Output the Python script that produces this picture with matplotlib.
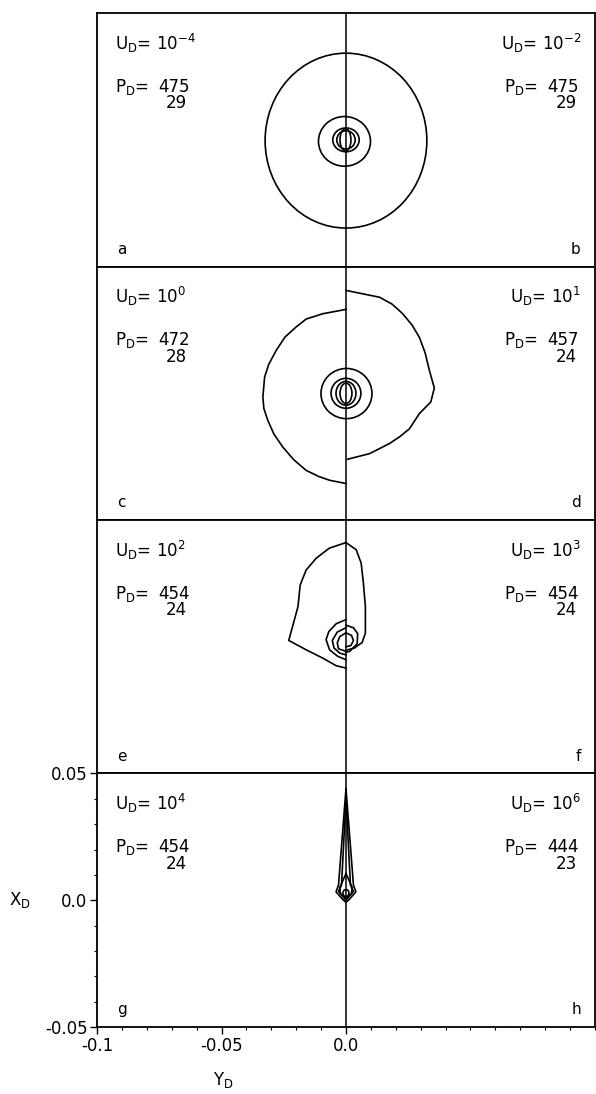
import matplotlib.pyplot as plt
from matplotlib.patches import Ellipse
from matplotlib.ticker import MultipleLocator

plt.rcParams['font.family'] = ['DejaVu Sans']
plt.rcParams['mathtext.default'] = 'regular'

# annotations for left / right half of each panel
u_exp_left = [-4, 0, 2, 4]
u_exp_right = [-2, 1, 3, 6]
p_left = [475, 472, 454, 454]
p_left2 = [29, 28, 24, 24]
p_right = [475, 457, 454, 444]
p_right2 = [29, 24, 24, 23]
letters_left = ['a', 'c', 'e', 'g']
letters_right = ['b', 'd', 'f', 'h']

# near circular contours: (x centre, y centre, width, height)
rings_ab = [
    (0.0, -0.0003, 0.065, 0.069),
    (-0.0006, -0.0006, 0.0209, 0.0196),
    (0.0, 0.0, 0.0106, 0.0094),
    (0.0, 0.0, 0.0074, 0.0072),
    (-0.0002, 0.0, 0.0044, 0.0088),
]
rings_cd = [
    (0.0002, -0.0001, 0.0205, 0.0198),
    (0.0, 0.0, 0.0120, 0.0118),
    (0.0, 0.0, 0.0080, 0.0094),
    (0.0, 0.0, 0.0048, 0.0080),
]

# panel c, left half, outer contour
c_out_x = [0.0, -0.0093, -0.0160, -0.0200, -0.0245, -0.0280, -0.0310, -0.0327, -0.0334,
           -0.0330, -0.0314, -0.0290, -0.0254, -0.0210, -0.0160, -0.0110, -0.0066, 0.0]
c_out_y = [0.0331, 0.0314, 0.0293, 0.0262, 0.0222, 0.0170, 0.0115, 0.0064, -0.0015,
           -0.0060, -0.0107, -0.0160, -0.0212, -0.0262, -0.0304, -0.0328, -0.0343, -0.0356]

# panel d, right half, outer contour
d_out_x = [0.0, 0.0135, 0.0185, 0.0227, 0.0265, 0.0295, 0.0318, 0.0335, 0.0355,
           0.0341, 0.0295, 0.0255, 0.0215, 0.0175, 0.0095, 0.0007]
d_out_y = [0.0406, 0.0379, 0.0352, 0.0315, 0.0270, 0.0221, 0.0160, 0.0091, 0.0021,
           -0.0034, -0.0080, -0.0140, -0.0172, -0.0198, -0.0238, -0.0260]

# panel e, left half contours
e1_x = [0.0, -0.0067, -0.0120, -0.0160, -0.0184, -0.0193, -0.0211, -0.0230,
        -0.0160, -0.0093, -0.0039, 0.0]
e1_y = [0.0411, 0.0389, 0.0349, 0.0303, 0.0244, 0.0158, 0.0093, 0.0025,
        -0.0012, -0.0045, -0.0075, -0.0084]
e2_x = [0.0, -0.0039, -0.0069, -0.0080, -0.0066, -0.0033, 0.0]
e2_y = [0.0107, 0.0091, 0.0060, 0.0028, -0.0012, -0.0038, -0.0051]
e3_x = [0.0, -0.0035, -0.0055, -0.0048, -0.0025, 0.0]
e3_y = [0.0075, 0.0058, 0.0025, -0.0005, -0.0025, -0.0032]
e4_x = [0.0, -0.0025, -0.0035, -0.0030, 0.0]
e4_y = [0.0055, 0.0040, 0.0015, -0.0008, -0.0018]

# panel f, right half contours
f1_x = [0.0, 0.0041, 0.0061, 0.0070, 0.0078, 0.0078, 0.0065, 0.0034, 0.0007]
f1_y = [0.0411, 0.0383, 0.0330, 0.0251, 0.0159, 0.0054, 0.0017, -0.0005, -0.0012]
f2_x = [0.0, 0.0030, 0.0047, 0.0045, 0.0015, 0.0]
f2_y = [0.0085, 0.0075, 0.0052, 0.0012, -0.0018, -0.0022]
f3_x = [0.0, 0.0022, 0.0030, 0.0020, 0.0]
f3_y = [0.0055, 0.0045, 0.0025, 0.0005, 0.0]

# panels g / h, spike contours
g1_x = [0.0, -0.0030, -0.0040, -0.0012, 0.0, 0.0012, 0.0040, 0.0030, 0.0]
g1_y = [0.044, 0.0060, 0.0033, 0.0002, -0.0008, 0.0002, 0.0033, 0.0060, 0.044]
g2_x = [0.0, -0.0018, -0.0030, 0.0, 0.0030, 0.0018, 0.0]
g2_y = [0.040, 0.0060, 0.0035, 0.0, 0.0035, 0.0060, 0.040]
g3_x = [0.0, -0.0025, -0.0022, 0.0, 0.0022, 0.0025, 0.0]
g3_y = [0.0105, 0.0050, 0.0025, 0.0008, 0.0025, 0.0050, 0.0105]
g_ring = (0.0, 0.0028, 0.0024, 0.0028)

fig, axes = plt.subplots(4, 1, figsize=(5.96, 10.94), dpi=100, sharex=True)
fig.subplots_adjust(left=0.163, right=0.998, top=0.988, bottom=0.0613, hspace=0)

lw = 1.2
fs = 12

def add_rings(ax, rings):
    for cx, cy, w, h in rings:
        ax.add_patch(Ellipse((cx, cy), w, h, fill=False, color='k', lw=lw))

for i, ax in enumerate(axes):
    ax.set_xlim(-0.1, 0.1)
    ax.set_ylim(-0.05, 0.05)
    ax.axvline(0, color='k', lw=1.1)
    for s in ax.spines.values():
        s.set_linewidth(1.3)

    # annotations
    ax.text(0.036, 0.855, "U$_D$= 10$^{%d}$" % u_exp_left[i], transform=ax.transAxes,
            fontsize=fs, ha='left', va='baseline')
    ax.text(0.036, 0.69, "P$_D$=", transform=ax.transAxes, fontsize=fs, ha='left', va='baseline')
    ax.text(0.122, 0.69, str(p_left[i]), transform=ax.transAxes, fontsize=fs, ha='left', va='baseline')
    ax.text(0.16, 0.625, str(p_left2[i]), transform=ax.transAxes, fontsize=fs, ha='center', va='baseline')
    ax.text(0.972, 0.855, "U$_D$= 10$^{%d}$" % u_exp_right[i], transform=ax.transAxes,
            fontsize=fs, ha='right', va='baseline')
    ax.text(0.818, 0.69, "P$_D$=", transform=ax.transAxes, fontsize=fs, ha='left', va='baseline')
    ax.text(0.904, 0.69, str(p_right[i]), transform=ax.transAxes, fontsize=fs, ha='left', va='baseline')
    ax.text(0.942, 0.625, str(p_right2[i]), transform=ax.transAxes, fontsize=fs, ha='center', va='baseline')
    ax.text(0.04, 0.05, letters_left[i], transform=ax.transAxes, fontsize=11, ha='left', va='baseline')
    ax.text(0.972, 0.05, letters_right[i], transform=ax.transAxes, fontsize=11, ha='right', va='baseline')

# panel a / b
add_rings(axes[0], rings_ab)

# panel c / d
add_rings(axes[1], rings_cd)
axes[1].plot(c_out_x, c_out_y, color='k', lw=lw)
axes[1].plot(d_out_x, d_out_y, color='k', lw=lw)

# panel e / f
for xs, ys in [(e1_x, e1_y), (e2_x, e2_y), (e3_x, e3_y), (e4_x, e4_y),
               (f1_x, f1_y), (f2_x, f2_y), (f3_x, f3_y)]:
    axes[2].plot(xs, ys, color='k', lw=lw)

# panel g / h
for xs, ys in [(g1_x, g1_y), (g2_x, g2_y), (g3_x, g3_y)]:
    axes[3].plot(xs, ys, color='k', lw=lw)
add_rings(axes[3], [g_ring])

# ticks only on the bottom panel
for ax in axes[:3]:
    ax.tick_params(which='both', length=0, labelbottom=False, labelleft=False)

ax = axes[3]
ax.set_xticks([-0.1, -0.05, 0.0])
ax.set_xticklabels(['-0.1', '-0.05', '0.0'])
ax.xaxis.set_minor_locator(MultipleLocator(0.01))
ax.set_yticks([-0.05, 0.0, 0.05])
ax.set_yticklabels(['-0.05', '0.0', '0.05'])
ax.yaxis.set_minor_locator(MultipleLocator(0.01))
ax.tick_params(which='major', direction='out', length=5, width=1.0, labelsize=fs, pad=2)
ax.tick_params(which='minor', direction='out', length=2.5, width=0.8)
ax.tick_params(axis='x', which='both', labelbottom=True)

ax.set_xlabel("Y$_D$", fontsize=fs)
ax.xaxis.set_label_coords(0.254, -0.17)
ax.set_ylabel("X$_D$", fontsize=fs, rotation=0, va='center', ha='center')
ax.yaxis.set_label_coords(-0.155, 0.5)

fig.savefig("out.png", dpi=100)
